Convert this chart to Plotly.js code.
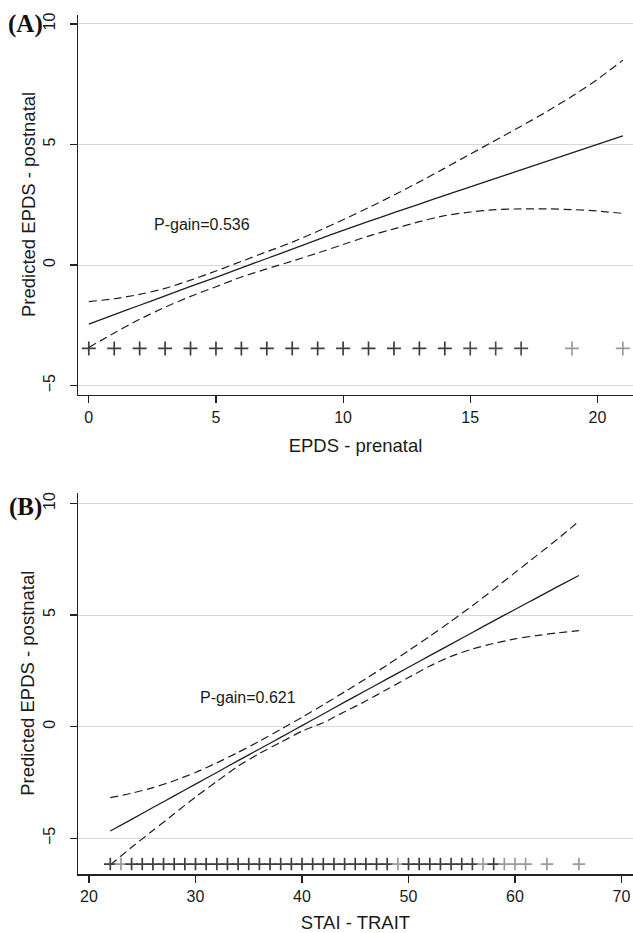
<!DOCTYPE html>
<html>
<head>
<meta charset="utf-8">
<script src="https://cdn.plot.ly/plotly-3.0.1.min.js"></script>
<style>
  html, body { margin: 0; padding: 0; background: #fff; }
  #chart { width: 633px; height: 933px; }
</style>
</head>
<body>
<div id="chart"></div>
<script>
// ---------- Panel A data: EPDS - prenatal ----------
const epdsX     = [0, 1, 2, 3, 4, 5, 6, 7, 8, 9, 10, 11, 12, 13, 14, 15, 16, 17, 18, 19, 20, 21];
const epdsFit   = [-2.45, -2.06, -1.67, -1.28, -0.89, -0.51, -0.12, 0.27, 0.66, 1.05, 1.44, 1.81, 2.17, 2.53, 2.89, 3.24, 3.59, 3.95, 4.30, 4.65, 5.00, 5.36];
const epdsUpper = [-1.52, -1.40, -1.22, -0.97, -0.63, -0.25, 0.15, 0.55, 0.95, 1.40, 1.88, 2.38, 2.90, 3.45, 4.02, 4.60, 5.18, 5.76, 6.36, 7.00, 7.70, 8.50];
const epdsLower = [-3.42, -2.82, -2.25, -1.75, -1.30, -0.90, -0.50, -0.16, 0.16, 0.50, 0.85, 1.20, 1.50, 1.80, 2.05, 2.20, 2.30, 2.33, 2.33, 2.30, 2.24, 2.14];
const epdsObs   = [0, 1, 2, 3, 4, 5, 6, 7, 8, 9, 10, 11, 12, 13, 14, 15, 16, 17, 19, 21];
const epdsSparseObs = [19, 21];
const epdsFewObs    = [15, 16, 17];
const epdsRugY  = -3.46;
const epdsLabel = {x: 4.46, y: 1.66, text: "P-gain=0.536"};

// ---------- Panel B data: STAI - TRAIT ----------
const staiX     = [22, 24, 26, 28, 30, 32, 34, 36, 38, 40, 42, 44, 46, 48, 50, 52, 54, 56, 58, 60, 62, 64, 66];
const staiFit   = [-4.67, -4.15, -3.62, -3.10, -2.57, -2.05, -1.52, -1.00, -0.48, 0.05, 0.57, 1.10, 1.62, 2.14, 2.66, 3.18, 3.70, 4.22, 4.74, 5.25, 5.76, 6.27, 6.77];
const staiUpper = [-3.18, -2.98, -2.73, -2.42, -2.05, -1.62, -1.15, -0.65, -0.12, 0.42, 0.98, 1.56, 2.15, 2.76, 3.40, 4.05, 4.72, 5.42, 6.15, 6.90, 7.65, 8.40, 9.20];
const staiLower = [-6.19, -5.40, -4.65, -3.90, -3.15, -2.45, -1.77, -1.20, -0.70, -0.20, 0.18, 0.67, 1.15, 1.68, 2.20, 2.72, 3.15, 3.48, 3.73, 3.93, 4.08, 4.20, 4.30];
const staiObs   = [22, 23, 24, 25, 26, 27, 28, 29, 30, 31, 32, 33, 34, 35, 36, 37, 38, 39, 40, 41,
                   42, 43, 44, 45, 46, 47, 48, 49, 50, 51, 52, 53, 54, 55, 56, 57, 58, 59, 60, 61, 63, 66];
const staiSparseObs = [23, 49, 57, 59, 60, 61, 63, 66];
const staiRugY  = -6.15;
const staiLabel = {x: 34.93, y: 1.32, text: "P-gain=0.621"};

// ---------- Tick values and titles ----------
const epdsXTicks = [0, 5, 10, 15, 20];
const staiXTicks = [20, 30, 40, 50, 60, 70];
const yTicks     = [-5, 0, 5, 10];
const yTitle     = "Predicted EPDS - postnatal";

// ---------- Styles ----------
const SANS = "Liberation Sans, Arial, Helvetica, sans-serif";
const lineCol = "#1e1e1e";
const dashStyle = "8px,4.5px";

function fitTraces(x, fit, up, lo, xa, ya) {
  return [
    {x: x, y: up, xaxis: xa, yaxis: ya, type: "scatter", mode: "lines", line: {color: lineCol, width: 1.2, dash: dashStyle, shape: "spline", smoothing: 0.6}, hoverinfo: "skip"},
    {x: x, y: lo, xaxis: xa, yaxis: ya, type: "scatter", mode: "lines", line: {color: lineCol, width: 1.2, dash: dashStyle, shape: "spline", smoothing: 0.6}, hoverinfo: "skip"},
    {x: x, y: fit, xaxis: xa, yaxis: ya, type: "scatter", mode: "lines", line: {color: lineCol, width: 1.3, shape: "spline", smoothing: 0.6}, hoverinfo: "skip"}
  ];
}

function rugTrace(obs, rugY, sparse, few, size, xa, ya) {
  const cols = obs.map(v => sparse.includes(v) ? "#9a9a9a" : (few.includes(v) ? "#4e4e4e" : "#3e3e3e"));
  return {
    x: obs, y: obs.map(() => rugY), xaxis: xa, yaxis: ya, type: "scatter", mode: "markers",
    marker: {symbol: "cross-thin", size: size, color: cols, line: {color: cols, width: 1.7}},
    hoverinfo: "skip"
  };
}

const data = [
  ...fitTraces(epdsX, epdsFit, epdsUpper, epdsLower, "x", "y"),
  rugTrace(epdsObs, epdsRugY, epdsSparseObs, epdsFewObs, 10, "x", "y"),
  ...fitTraces(staiX, staiFit, staiUpper, staiLower, "x2", "y2"),
  rugTrace(staiObs, staiRugY, staiSparseObs, [], 9, "x2", "y2")
];

const H = 933, W = 633;
const axisCommon = {
  showline: true, linecolor: "#222", linewidth: 1.3,
  ticks: "outside", ticklen: 7, tickwidth: 1.2, tickcolor: "#222",
  tickfont: {family: SANS, size: 16, color: "#1a1a1a"},
  zeroline: false, fixedrange: true
};
const domA = [1 - 395 / H, 1 - 15 / H];
const domB = [1 - 874.3 / H, 1 - 493.3 / H];
const yLabelStandoff = 8;

const layout = {
  width: W, height: H,
  margin: {l: 0, r: 0, t: 0, b: 0},
  paper_bgcolor: "#ffffff", plot_bgcolor: "#ffffff",
  showlegend: false,
  font: {family: SANS, color: "#1a1a1a"},
  xaxis: Object.assign({}, axisCommon, {
    domain: [78 / W, 1], anchor: "y",
    range: [-0.425, 21.40], tickvals: epdsXTicks, showgrid: false,
    title: {text: "EPDS - prenatal", font: {family: SANS, size: 18.5, color: "#1a1a1a"}, standoff: 14}
  }),
  yaxis: Object.assign({}, axisCommon, {
    domain: domA, anchor: "x",
    range: [-5.394, 10.373], tickvals: yTicks, tickangle: -90, ticklabelstandoff: yLabelStandoff,
    showgrid: true, gridcolor: "#d8d8d8", gridwidth: 1
  }),
  xaxis2: Object.assign({}, axisCommon, {
    domain: [78 / W, 1], anchor: "y2",
    range: [18.967, 71.08], tickvals: staiXTicks, showgrid: false,
    title: {text: "STAI - TRAIT", font: {family: SANS, size: 18.5, color: "#1a1a1a"}, standoff: 14}
  }),
  yaxis2: Object.assign({}, axisCommon, {
    domain: domB, anchor: "x2",
    range: [-6.61, 10.452], tickvals: yTicks, tickangle: -90, ticklabelstandoff: yLabelStandoff,
    showgrid: true, gridcolor: "#d8d8d8", gridwidth: 1
  }),
  annotations: [
    {xref: "x", yref: "y", x: epdsLabel.x, y: epdsLabel.y, text: epdsLabel.text, showarrow: false,
     font: {family: SANS, size: 16, color: "#1a1a1a"}},
    {xref: "x2", yref: "y2", x: staiLabel.x, y: staiLabel.y, text: staiLabel.text, showarrow: false,
     font: {family: SANS, size: 16, color: "#1a1a1a"}},
    {xref: "paper", yref: "paper", x: 28 / W, y: (domA[0] + domA[1]) / 2, text: yTitle, textangle: -90,
     showarrow: false, xanchor: "center", yanchor: "middle",
     font: {family: SANS, size: 18.5, color: "#1a1a1a"}},
    {xref: "paper", yref: "paper", x: 28 / W, y: (domB[0] + domB[1]) / 2, text: yTitle, textangle: -90,
     showarrow: false, xanchor: "center", yanchor: "middle",
     font: {family: SANS, size: 18.5, color: "#1a1a1a"}},
    {xref: "paper", yref: "paper", x: 25 / W, y: 1 - 23.5 / H, text: "<b>(A)</b>", showarrow: false,
     xanchor: "center", yanchor: "middle",
     font: {family: "Liberation Serif, Times New Roman, serif", size: 25, color: "#111"}},
    {xref: "paper", yref: "paper", x: 25 / W, y: 1 - 507 / H, text: "<b>(B)</b>", showarrow: false,
     xanchor: "center", yanchor: "middle",
     font: {family: "Liberation Serif, Times New Roman, serif", size: 25, color: "#111"}}
  ]
};

Plotly.newPlot("chart", data, layout, {staticPlot: true, displayModeBar: false});
</script>
</body>
</html>
